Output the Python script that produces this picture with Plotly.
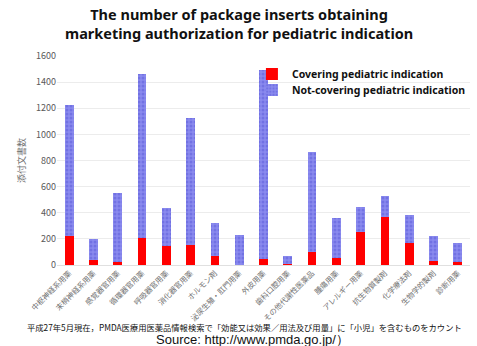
import plotly.graph_objects as go

categories = ["中枢神経系用薬", "末梢神経系用薬", "感覚器官用薬", "循環器官用薬", "呼吸器官用薬",
              "消化器官用薬", "ホルモン剤", "泌尿生殖・肛門用薬", "外皮用薬", "歯科口腔用薬",
              "その他代謝性医薬品", "腫瘍用薬", "アレルギー用薬", "抗生物質製剤", "化学療法剤",
              "生物学的製剤", "診断用薬"]
covering = [222, 40, 25, 203, 142, 152, 69, 0, 46, 5, 97, 53, 254, 368, 168, 28, 20]
totals = [1228, 198, 550, 1460, 440, 1125, 318, 229, 1495, 66, 864, 363, 444, 528, 383, 223, 168]
not_covering = [t - c for t, c in zip(totals, covering)]
y_ticks = [0, 200, 400, 600, 800, 1000, 1200, 1400, 1600]

JP = "Noto Sans CJK JP, Noto Sans, sans-serif"
LEG_FONT = dict(size=10.5, color="#111111", family="Noto Sans, Open Sans, sans-serif")

fig = go.Figure()
fig.add_trace(go.Bar(
    x=categories, y=covering, name="<b>Covering pediatric indication</b>",
    marker=dict(color="#ff0000", line=dict(width=0)), legend="legend",
))
fig.add_trace(go.Bar(
    x=categories, y=not_covering, name="<b>Not-covering pediatric indication</b>",
    marker=dict(color="#8585ec", line=dict(width=0),
                pattern=dict(shape=".", fgcolor="#5a5ad8", bgcolor="#8a8aee",
                             size=4, solidity=0.45)),
    legend="legend2",
))

# figure centre expressed in plot-area (paper) coordinates
L, R, W = 57, 7, 477
fig_cx = (W / 2 - L) / (W - L - R)

legend_common = dict(xanchor="left", yanchor="middle", font=LEG_FONT,
                     bgcolor="rgba(0,0,0,0)", itemwidth=30)

fig.update_layout(
    barmode="stack",
    bargap=0.64,
    width=W, height=346,
    margin=dict(l=L, r=R, t=56, b=81, autoexpand=False),
    plot_bgcolor="white", paper_bgcolor="white",
    font=dict(family=JP, color="#595959"),
    legend=dict(x=0.472, y=(265 - 74) / 209, **legend_common),
    legend2=dict(x=0.472, y=(265 - 90) / 209, **legend_common),
    xaxis=dict(
        tickangle=-45, tickfont=dict(size=7.5, color="#707070", family=JP),
        showgrid=False, linecolor="#e0e0e0", showline=True, ticks="",
    ),
    yaxis=dict(
        range=[0, 1600], tickvals=y_ticks, ticktext=[str(v) for v in y_ticks],
        gridcolor="#ececec", zeroline=False, showline=False,
        tickfont=dict(size=9, color="#595959"),
        title=dict(text="添付文書数", font=dict(size=9, color="#707070", family=JP), standoff=8),
    ),
    showlegend=True,
)

# Two-line title, placed in pixels above the plot area
fig.add_annotation(
    text="<b>The number of package inserts obtaining<br>"
         "marketing authorization for pediatric indication</b>",
    xref="paper", yref="paper", x=fig_cx, y=1,
    xanchor="center", yanchor="middle", yshift=33, showarrow=False,
    font=dict(size=14.5, color="#111111", family="Noto Sans, sans-serif"),
)

fig.add_annotation(
    text="平成27年5月現在，PMDA医療用医薬品情報検索で「効能又は効果／用法及び用量」に「小児」を含むものをカウント",
    xref="paper", yref="paper", x=fig_cx, y=0, xanchor="center", yanchor="middle",
    yshift=-62, xshift=6, showarrow=False, font=dict(size=8.3, color="#111111", family=JP),
)
fig.add_annotation(
    text="Source: http://www.pmda.go.jp/）",
    xref="paper", yref="paper", x=fig_cx, y=0, xanchor="center", yanchor="middle",
    yshift=-74, xshift=14, showarrow=False,
    font=dict(size=13, color="#111111", family="Liberation Sans, Arial, sans-serif"),
)

fig.write_html("out.html")
